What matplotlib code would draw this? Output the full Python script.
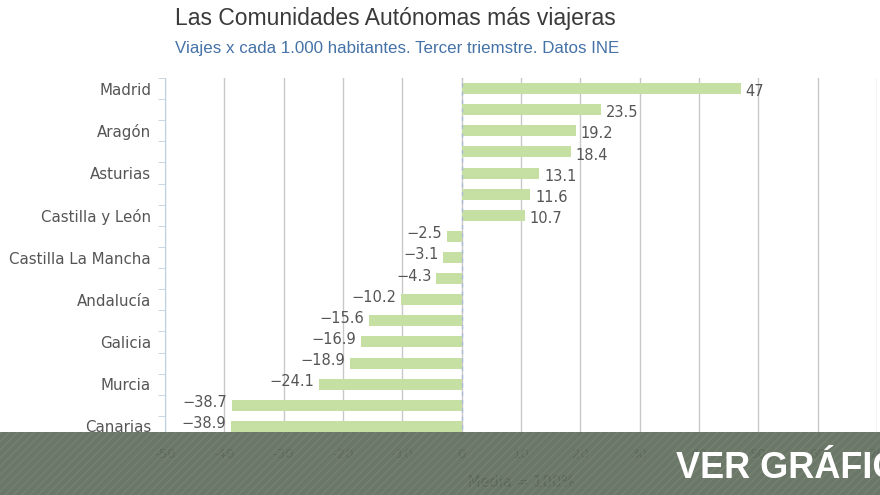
"""
Las Comunidades Autónomas más viajeras - barras horizontales.
"""
import numpy as np
import matplotlib
matplotlib.use("Agg")
import matplotlib.pyplot as plt
from matplotlib.patches import Rectangle

# datos (viajes x cada 1.000 habitantes, media = 100%)
comunidades = ["Madrid", "Cataluña", "Aragón", "País Vasco", "Asturias", "Navarra",
               "Castilla y León", "La Rioja", "Castilla La Mancha", "Cantabria",
               "Andalucía", "Extremadura", "Galicia", "C. Valenciana", "Murcia",
               "Baleares", "Canarias"]
valores = [47, 23.5, 19.2, 18.4, 13.1, 11.6, 10.7, -2.5, -3.1, -4.3,
           -10.2, -15.6, -16.9, -18.9, -24.1, -38.7, -38.9]
xticks = [-50, -40, -30, -20, -10, 0, 10, 20, 30, 40, 50, 60, 70]

fig = plt.figure(figsize=(8.8, 4.95), dpi=100)
ax = fig.add_axes([165 / 880, 1 - 437 / 495, (877 - 165) / 880, (437 - 78) / 495])

y = np.arange(len(valores))
ax.barh(y, valores, height=0.52, color="#c6dfa2", zorder=2)
ax.set_ylim(len(valores) - 0.5, -0.5)
ax.set_xlim(-50, 70)

for yi, v in zip(y, valores):
    txt = f"{v:g}".replace("-", "−")
    if v >= 0:
        ax.text(v + 0.8, yi + 0.15, txt, ha="left", va="center", fontsize=10.5, color="#555555")
    else:
        ax.text(v - 0.8, yi - 0.12, txt, ha="right", va="center", fontsize=10.5, color="#555555")

ax.set_yticks(y[::2])
ax.set_yticklabels(comunidades[::2], fontsize=10.8, color="#555555")
ax.set_yticks(np.arange(-0.5, len(valores), 1), minor=True)
ax.tick_params(axis="y", which="major", length=0, pad=10)
ax.tick_params(axis="y", which="minor", length=5, color="#c0d0e0", direction="out")

ax.set_xticks(xticks)
ax.set_xticklabels([str(t) for t in xticks], fontsize=9.5, color="#666666")
ax.tick_params(axis="x", length=0, pad=8)
ax.set_xlabel("Media = 100%", fontsize=10.5, color="#4d4d4d", labelpad=10)

ax.grid(axis="x", color="#c8c8c8", lw=1, zorder=0)
ax.axvline(0, color="#a8bcd8", lw=1, ls=(0, (3, 3)), zorder=3)
for s in ["top", "right", "bottom"]:
    ax.spines[s].set_visible(False)
ax.spines["left"].set_color("#c0d0e0")

fig.text(175 / 880, 1 - 19 / 495, "Las Comunidades Autónomas más viajeras", fontsize=16.5,
         family="Liberation Sans", color="#3a3a3a", va="center")
fig.text(175 / 880, 1 - 49 / 495, "Viajes x cada 1.000 habitantes. Tercer triemstre. Datos INE",
         fontsize=12.2, family="Liberation Sans", color="#4572a7", va="center")

# banda superpuesta "VER GRÁFICO"
fig.patches.append(Rectangle((0, 0), 1, 63 / 495, transform=fig.transFigure,
                             facecolor="#5e6b5c", alpha=0.92, zorder=10))
fig.patches.append(Rectangle((0, 0), 1, 63 / 495, transform=fig.transFigure,
                             facecolor="none", edgecolor="#76826f", hatch="////",
                             lw=0, zorder=11))
fig.text(676 / 880, 1 - 468 / 495, "VER GRÁFICO", fontsize=26, fontweight="bold",
         family="Liberation Sans", color="white", va="center", zorder=12)

fig.savefig("out.png", dpi=100)
